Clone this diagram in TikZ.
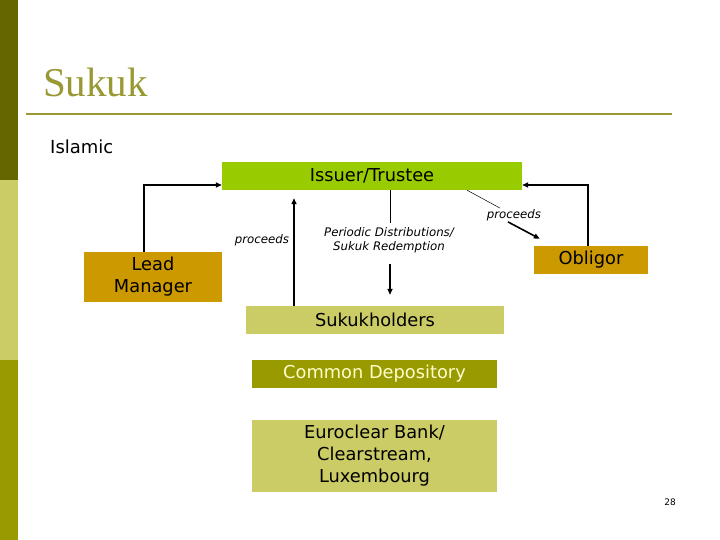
\documentclass[tikz,border=0pt]{standalone}
\usepackage{fontspec}
\setmainfont{DejaVu Sans}
\newfontfamily\titlefont{Liberation Serif}
\usetikzlibrary{arrows.meta,calc}
\definecolor{darkolive}{HTML}{666600}
\definecolor{lightolive}{HTML}{CCCC66}
\definecolor{olive2}{HTML}{999900}
\definecolor{titlecol}{HTML}{999933}
\definecolor{issuercol}{HTML}{99CC00}
\definecolor{goldcol}{HTML}{CC9900}
\definecolor{creamtext}{HTML}{FFFFCC}
\tikzset{
  box/.style={inner sep=0pt, align=center, font=\fontsize{17.8}{22}\selectfont},
  lbl/.style={inner sep=0pt, align=center, font=\fontsize{11.8}{14}\selectfont\itshape},
  thickarrow/.style={line width=1.6pt, -{Triangle[length=6pt,width=5pt]}},
  thinline/.style={line width=0.5pt},
}
\begin{document}
\begin{tikzpicture}[x=1pt,y=-1pt]
\useasboundingbox (0,0) rectangle (720,540);
\fill[white] (0,0) rectangle (720,540);
% left bar
\fill[darkolive] (0,0) rectangle (18,180);
\fill[lightolive] (0,180) rectangle (18,360);
\fill[olive2] (0,360) rectangle (18,540);
% title
\node[anchor=base west, inner sep=0pt, text=titlecol, font=\titlefont\fontsize{41}{41}\selectfont] (title) at (43,97) {Sukuk};
\draw[titlecol, line width=2pt] (26,114) -- (672,114);
\node[anchor=west, inner sep=0pt, font=\fontsize{18}{20}\selectfont] (islamic) at (50,147) {Islamic};
% boxes
\node[box, fill=issuercol, minimum width=300pt, minimum height=28pt] (issuer) at (372,176) {Issuer/Trustee};
\node[box, fill=goldcol, minimum width=138pt, minimum height=50pt] (lead) at (153,277) {Lead\\Manager};
\node[box, fill=goldcol, minimum width=114pt, minimum height=28pt] (obligor) at (591,260) {Obligor};
\node[box, fill=lightolive, minimum width=258pt, minimum height=28pt] (sukuk) at (375,320) {Sukukholders};
\node[box, fill=olive2, text=creamtext, minimum width=245pt, minimum height=28pt] (common) at (374.5,374) {Common Depository};
\node[box, fill=lightolive, minimum width=245pt, minimum height=72pt] (euro) at (374.5,456) {Euroclear Bank/\\Clearstream,\\Luxembourg};
% labels
\node[lbl] (procL) at (262,240) {proceeds};
\node[lbl] (periodic) at (389,240) {Periodic Distributions/\\Sukuk Redemption};
\node[lbl] (procR) at (514,215) {proceeds};
\node[font=\fontsize{9}{10}\selectfont, inner sep=0pt] (page) at (670,502) {28};
% connectors
\draw[thickarrow] ([xshift=-9pt]lead.north) |- ([yshift=-9pt]issuer.west);
\draw[thickarrow] ([xshift=-81pt]sukuk.north) -- ([xshift=-78pt,yshift=-8pt]issuer.south);
\draw[thickarrow] ([xshift=-3pt]obligor.north) |- ([yshift=-9pt]issuer.east);
\draw[thinline] ([xshift=18pt]issuer.south) -- ([xshift=18pt,yshift=-33pt]issuer.south);
\draw[thickarrow] ([xshift=18pt,yshift=-74pt]issuer.south) -- ([xshift=15pt,yshift=11pt]sukuk.north);
\draw[thinline] ([xshift=95pt]issuer.south) -- ([xshift=-14pt,yshift=1pt]procR.north);
\draw[thickarrow] ([xshift=-6pt,yshift=-1pt]procR.south) -- ([xshift=6pt,yshift=7pt]obligor.north west);
\end{tikzpicture}
\end{document}
